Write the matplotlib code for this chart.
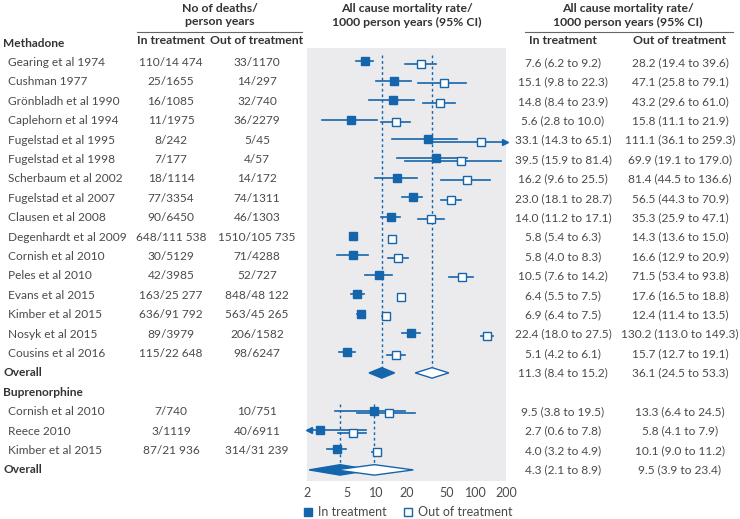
import matplotlib
matplotlib.use("Agg")
import matplotlib.pyplot as plt
from matplotlib.lines import Line2D
from matplotlib.transforms import blended_transform_factory

plt.rcParams['font.family'] = ['Lato', 'DejaVu Sans']

# data
meth_studies = ["Gearing et al 1974", "Cushman 1977", "Grönbladh et al 1990", "Caplehorn et al 1994",
                "Fugelstad et al 1995", "Fugelstad et al 1998", "Scherbaum et al 2002", "Fugelstad et al 2007",
                "Clausen et al 2008", "Degenhardt et al 2009", "Cornish et al 2010", "Peles et al 2010",
                "Evans et al 2015", "Kimber et al 2015", "Nosyk et al 2015", "Cousins et al 2016"]
meth_in_deaths = [110, 25, 16, 11, 8, 7, 18, 77, 90, 648, 30, 42, 163, 636, 89, 115]
meth_in_py = [14474, 1655, 1085, 1975, 242, 177, 1114, 3354, 6450, 111538, 5129, 3985, 25277, 91792, 3979, 22648]
meth_out_deaths = [33, 14, 32, 36, 5, 4, 14, 74, 46, 1510, 71, 52, 848, 563, 206, 98]
meth_out_py = [1170, 297, 740, 2279, 45, 57, 172, 1311, 1303, 105735, 4288, 727, 48122, 45265, 1582, 6247]
meth_in_rate = [7.6, 15.1, 14.8, 5.6, 33.1, 39.5, 16.2, 23.0, 14.0, 5.8, 5.8, 10.5, 6.4, 6.9, 22.4, 5.1]
meth_in_lo = [6.2, 9.8, 8.4, 2.8, 14.3, 15.9, 9.6, 18.1, 11.2, 5.4, 4.0, 7.6, 5.5, 6.4, 18.0, 4.2]
meth_in_hi = [9.2, 22.3, 23.9, 10.0, 65.1, 81.4, 25.5, 28.7, 17.1, 6.3, 8.3, 14.2, 7.5, 7.5, 27.5, 6.1]
meth_out_rate = [28.2, 47.1, 43.2, 15.8, 111.1, 69.9, 81.4, 56.5, 35.3, 14.3, 16.6, 71.5, 17.6, 12.4, 130.2, 15.7]
meth_out_lo = [19.4, 25.8, 29.6, 11.1, 36.1, 19.1, 44.5, 44.3, 25.9, 13.6, 12.9, 53.4, 16.5, 11.4, 113.0, 12.7]
meth_out_hi = [39.6, 79.1, 61.0, 21.9, 259.3, 179.0, 136.6, 70.9, 47.1, 15.0, 20.9, 93.8, 18.8, 13.5, 149.3, 19.1]
meth_overall_in = (11.3, 8.4, 15.2)
meth_overall_out = (36.1, 24.5, 53.3)

bup_studies = ["Cornish et al 2010", "Reece 2010", "Kimber et al 2015"]
bup_in_deaths = [7, 3, 87]
bup_in_py = [740, 1119, 21936]
bup_out_deaths = [10, 40, 314]
bup_out_py = [751, 6911, 31239]
bup_in_rate = [9.5, 2.7, 4.0]
bup_in_lo = [3.8, 0.6, 3.2]
bup_in_hi = [19.5, 7.8, 4.9]
bup_out_rate = [13.3, 5.8, 10.1]
bup_out_lo = [6.4, 4.1, 9.0]
bup_out_hi = [24.5, 7.9, 11.2]
bup_overall_in = (4.3, 2.1, 8.9)
bup_overall_out = (9.5, 3.9, 23.4)

ticks = [2, 5, 10, 20, 50, 100, 200]

BLUE = '#1565ad'
TXT = '#4a4a4a'
HEAD = '#333333'
W, H = 740, 519
FS = 8.6


def fmt_n(n):
    if n >= 10000:
        return f"{n:,}".replace(",", " ")
    return str(n)


def fmt_ci(r, lo, hi):
    return f"{r:.1f} ({lo:.1f} to {hi:.1f})"


fig = plt.figure(figsize=(W / 100, H / 100), dpi=100)

# forest axes in pixel layout
px_l, px_r, px_t, px_b = 307, 506, 48, 481
ax = fig.add_axes([px_l / W, 1 - px_b / H, (px_r - px_l) / W, (px_b - px_t) / H])
ax.set_facecolor('#ebebee')
for s in ax.spines.values():
    s.set_visible(False)
ax.set_xscale('log')
ax.set_xlim(2, 200)
row0, step = 62.5, 19.4
ax.set_ylim((px_b - row0) / step, (px_t - row0) / step)
ax.set_yticks([])
ax.set_xticks(ticks)
ax.set_xticklabels([str(t) for t in ticks])
ax.minorticks_off()
ax.tick_params(axis='x', length=0, pad=4, labelsize=9, labelcolor=TXT)

tr = blended_transform_factory(fig.transFigure, ax.transData)


def put(xpx, y, s, ha='center', bold=False, color=TXT):
    fig.text(xpx / W, y, s, transform=tr, ha=ha, va='center', fontsize=FS,
             fontweight='bold' if bold else 'normal', color=color)


def draw_pair(y, r_in, lo_in, hi_in, r_out, lo_out, hi_out):
    yi, yo = y - 0.06, y + 0.08
    ax.plot([max(lo_in, 2), min(hi_in, 200)], [yi, yi], color=BLUE, lw=1.2, zorder=2)
    ax.plot(r_in, yi, marker='s', ms=5.8, color=BLUE, zorder=3)
    ax.plot([max(lo_out, 2), min(hi_out, 200)], [yo, yo], color=BLUE, lw=1.2, zorder=2)
    ax.plot(r_out, yo, marker='s', ms=5.2, mfc='white', mec=BLUE, mew=1, zorder=3)
    if lo_in < 2:
        ax.plot(2.1, yi, marker='<', ms=4, color=BLUE, clip_on=False)
    if hi_out > 200:
        ax.plot(195, yo, marker='>', ms=4, color=BLUE, clip_on=False)


def diamond(y, est, lo, hi, filled):
    xs = [lo, est, hi, est, lo]
    ys = [y, y - 0.27, y, y + 0.27, y]
    ax.fill(xs, ys, facecolor=BLUE if filled else 'white', edgecolor=BLUE, lw=1, zorder=3)


# methadone block
put(3, -1, "Methadone", ha='left', bold=True, color=HEAD)
for i, name in enumerate(meth_studies):
    put(8, i, name, ha='left')
    put(171, i, f"{meth_in_deaths[i]}/{fmt_n(meth_in_py[i])}")
    put(257, i, f"{meth_out_deaths[i]}/{fmt_n(meth_out_py[i])}")
    put(563, i, fmt_ci(meth_in_rate[i], meth_in_lo[i], meth_in_hi[i]))
    put(680, i, fmt_ci(meth_out_rate[i], meth_out_lo[i], meth_out_hi[i]))
    draw_pair(i, meth_in_rate[i], meth_in_lo[i], meth_in_hi[i],
              meth_out_rate[i], meth_out_lo[i], meth_out_hi[i])
ym = len(meth_studies)
put(3, ym, "Overall", ha='left', bold=True, color=HEAD)
put(563, ym, fmt_ci(*meth_overall_in))
put(680, ym, fmt_ci(*meth_overall_out))
ax.plot([meth_overall_in[0]] * 2, [-0.4, ym], color=BLUE, lw=1, ls=(0, (2, 2)), zorder=1)
ax.plot([meth_overall_out[0]] * 2, [-0.4, ym], color=BLUE, lw=1, ls=(0, (2, 2)), zorder=1)
diamond(ym, *meth_overall_in, True)
diamond(ym, *meth_overall_out, False)

# buprenorphine block
yb = ym + 1
put(3, yb, "Buprenorphine", ha='left', bold=True, color=HEAD)
for j, name in enumerate(bup_studies):
    y = yb + 1 + j
    put(8, y, name, ha='left')
    put(171, y, f"{bup_in_deaths[j]}/{fmt_n(bup_in_py[j])}")
    put(257, y, f"{bup_out_deaths[j]}/{fmt_n(bup_out_py[j])}")
    put(563, y, fmt_ci(bup_in_rate[j], bup_in_lo[j], bup_in_hi[j]))
    put(680, y, fmt_ci(bup_out_rate[j], bup_out_lo[j], bup_out_hi[j]))
    draw_pair(y, bup_in_rate[j], bup_in_lo[j], bup_in_hi[j],
              bup_out_rate[j], bup_out_lo[j], bup_out_hi[j])
yo = yb + 1 + len(bup_studies)
put(3, yo, "Overall", ha='left', bold=True, color=HEAD)
put(563, yo, fmt_ci(*bup_overall_in))
put(680, yo, fmt_ci(*bup_overall_out))
ax.plot([bup_overall_in[0]] * 2, [yb + 0.6, yo], color=BLUE, lw=1, ls=(0, (2, 2)), zorder=1)
ax.plot([bup_overall_out[0]] * 2, [yb + 0.6, yo], color=BLUE, lw=1, ls=(0, (2, 2)), zorder=1)
diamond(yo, *bup_overall_in, True)
diamond(yo, *bup_overall_out, False)

# headers
def head(xpx, ypx, s):
    fig.text(xpx / W, 1 - ypx / H, s, ha='center', va='center', fontsize=8.8,
             fontweight='bold', color=HEAD)


head(220, 8, "No of deaths/")
head(220, 22, "person years")
head(407, 8, "All cause mortality rate/")
head(407, 22, "1000 person years (95% CI)")
head(628, 8, "All cause mortality rate/")
head(628, 22, "1000 person years (95% CI)")
head(171, 41, "In treatment")
head(257, 41, "Out of treatment")
head(563, 41, "In treatment")
head(680, 41, "Out of treatment")
for x0, x1 in [(137, 302), (525, 733)]:
    fig.add_artist(Line2D([x0 / W, x1 / W], [1 - 32 / H] * 2, color='#666666', lw=0.8))

# legend
handles = [Line2D([], [], ls='', marker='s', ms=6, color=BLUE),
           Line2D([], [], ls='', marker='s', ms=6, mfc='white', mec=BLUE, mew=1)]
leg = fig.legend(handles, ["In treatment", "Out of treatment"], loc='center', ncol=2,
                 bbox_to_anchor=(407 / W, 1 - 512 / H), frameon=False, fontsize=9,
                 handletextpad=0.3, columnspacing=1.2, handlelength=1)
for t in leg.get_texts():
    t.set_color(TXT)

fig.savefig("out.png", dpi=100)
